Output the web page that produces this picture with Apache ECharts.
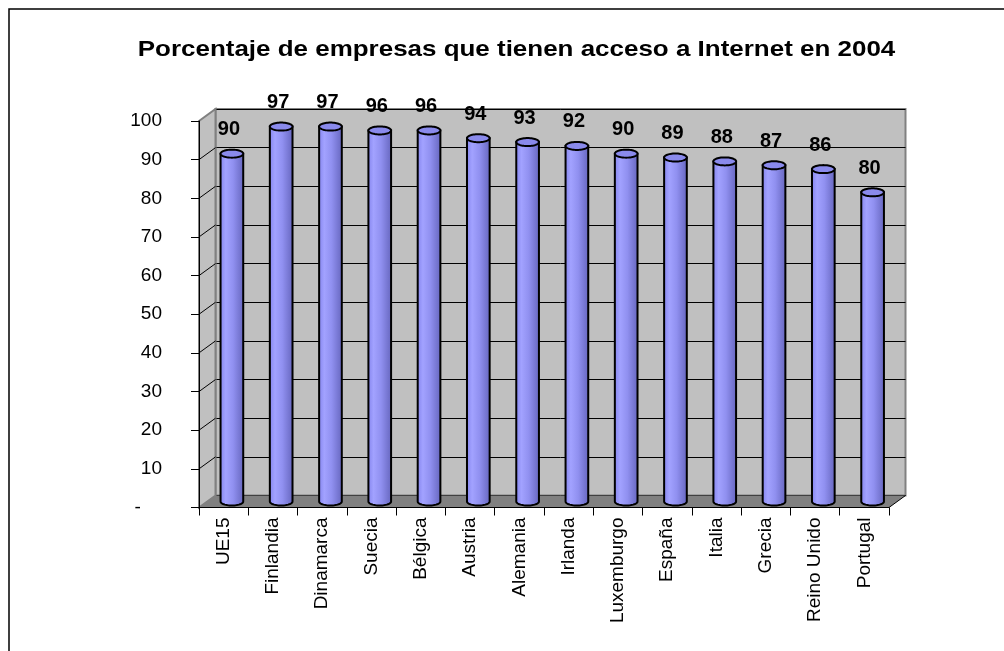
<!DOCTYPE html>
<html>
<head>
<meta charset="utf-8">
<script src="https://cdn.jsdelivr.net/npm/echarts@6/dist/echarts.min.js"></script>
<style>
html,body{margin:0;padding:0;background:#fff;}
#chart{width:1004px;height:651px;}
</style>
</head>
<body>
<div id="chart"></div>
<script>
const categories = ['UE15','Finlandia','Dinamarca','Suecia','Bélgica','Austria','Alemania','Irlanda','Luxemburgo','España','Italia','Grecia','Reino Unido','Portugal'];
const values = [90,97,97,96,96,94,93,92,90,89,88,87,86,80];
const yTicks = [0,10,20,30,40,50,60,70,80,90,100];
const titleText = 'Porcentaje de empresas que tienen acceso a Internet en 2004';

const FONT = 'Arial, "Liberation Sans", sans-serif';
// layout: front plane, back plane, middle (bars)
const FRONT = {left:199, right:115, top:121, bottom:143.5};
const DX = 16.5, DY = 12;
const BACK = {left:FRONT.left+DX, right:FRONT.right-DX, top:FRONT.top-DY, bottom:FRONT.bottom+DY};
const MID = {left:FRONT.left+DX/2, right:FRONT.right-DX/2, top:FRONT.top-DY/2, bottom:FRONT.bottom+DY/2};

const chart = echarts.init(document.getElementById('chart'), null, {renderer:'canvas'});

function renderItem(params, api){
  const i = api.value(0), v = api.value(1);
  const top = api.coord([i, v]);
  const base = api.coord([i, 0]);
  const w = api.size([1,0])[0]*0.46;
  const rx = w/2, ry = 4;
  const cx = top[0], x0 = cx-rx, x1 = cx+rx;
  const yt = top[1], yb = base[1];
  const N = 28;
  const body = [[x0,yt],[x0,yb]];
  for (let k=1;k<N;k++){ const a = Math.PI - Math.PI*k/N; body.push([cx+rx*Math.cos(a), yb+ry*Math.sin(a)]); }
  body.push([x1,yb]); body.push([x1,yt]);
  const cap = [];
  for (let k=0;k<2*N;k++){ const a = Math.PI*2*k/(2*N); cap.push([cx+rx*Math.cos(a), yt+ry*Math.sin(a)]); }
  const grad = {type:'linear', x:0, y:0, x2:1, y2:0, colorStops:[
    {offset:0, color:'#8282ec'},{offset:0.25, color:'#a2a2ff'},{offset:0.55, color:'#9090f0'},{offset:1, color:'#6464bc'}]};
  return {type:'group', children:[
    {type:'polygon', shape:{points:body}, style:{fill:grad, stroke:'#000', lineWidth:2}},
    {type:'polygon', shape:{points:cap}, style:{fill:'#8a8aec', stroke:'#000', lineWidth:2}},
    {type:'text', style:{text:String(v), x:cx-3, y:yt-ry-10, align:'center', verticalAlign:'bottom', fontSize:20, fontWeight:'bold', fontFamily:FONT, fill:'#000'}}
  ]};
}

const option = {
  animation:false,
  backgroundColor:'#fff',
  grid:[
    Object.assign({show:true, backgroundColor:'#c0c0c0', borderColor:'#808080', borderWidth:2, containLabel:false}, BACK),
    Object.assign({containLabel:false}, FRONT),
    Object.assign({containLabel:false}, MID)
  ],
  xAxis:[
    {gridIndex:0, type:'category', data:categories, show:false},
    {gridIndex:1, type:'category', data:categories, boundaryGap:true, z:4,
      axisLine:{lineStyle:{color:'#000', width:1}},
      axisTick:{show:true, length:8, alignWithLabel:false, lineStyle:{color:'#000'}},
      axisLabel:{rotate:90, margin:10, fontSize:19, fontFamily:FONT, color:'#000', interval:0}},
    {gridIndex:2, type:'category', data:categories, show:false}
  ],
  yAxis:[
    {gridIndex:0, type:'value', min:0, max:100, interval:10,
      axisLine:{show:false}, axisTick:{show:false}, axisLabel:{show:false},
      splitLine:{show:true, lineStyle:{color:'#000', width:1}}},
    {gridIndex:1, type:'value', min:0, max:100, interval:10, z:4,
      axisLine:{show:true, lineStyle:{color:'#000', width:1}},
      axisTick:{show:true, length:8, lineStyle:{color:'#000'}},
      splitLine:{show:false},
      axisLabel:{margin:37, fontSize:19, fontFamily:FONT, color:'#000',
        formatter: v => v === 0 ? '-    ' : String(v)}},
    {gridIndex:2, type:'value', min:0, max:100, show:false}
  ],
  series:[{
    type:'custom', xAxisIndex:2, yAxisIndex:2, z:5,
    renderItem: renderItem,
    data: values.map((v,i)=>[i,v])
  }]
};
chart.setOption(option);

// 3D decorations: side wall, floor, depth lines, frame, title
const W = 1004, H = 651;
const fl = FRONT.left, fr = W-FRONT.right, ft = FRONT.top, fb = H-FRONT.bottom;
const bl = BACK.left, br = W-BACK.right, bt = BACK.top, bb = H-BACK.bottom;
const elements = [
  {type:'rect', shape:{x:9, y:9, width:1100, height:1000}, style:{fill:'none', stroke:'#000', lineWidth:1.5}, z:0},
  {type:'text', x:516.5, y:50, scaleX:1.18, scaleY:1, z:3,
    style:{text:titleText, align:'center', verticalAlign:'middle', fontSize:22, fontWeight:'bold', fontFamily:FONT, fill:'#000'}},
  {type:'polygon', shape:{points:[[fl,ft],[bl,bt],[bl,bb],[fl,fb]]}, style:{fill:'#c0c0c0', stroke:'#808080', lineWidth:2}, z:1},
  {type:'polygon', shape:{points:[[fl,fb],[fr,fb],[br,bb],[bl,bb]]}, style:{fill:'#808080', stroke:'none'}, z:1},
  {type:'line', shape:{x1:fr, y1:fb, x2:br, y2:bb}, style:{stroke:'#000', lineWidth:1}, z:2}
];
yTicks.forEach(t => {
  const yf = chart.convertToPixel({yAxisIndex:1}, t);
  const yb2 = chart.convertToPixel({yAxisIndex:0}, t);
  if (t > 0 && t < 100) elements.push({type:'line', shape:{x1:fl, y1:yf, x2:bl, y2:yb2}, style:{stroke:'#000', lineWidth:1}, z:2});
});
chart.setOption({graphic:{elements:elements}});
</script>
</body>
</html>
